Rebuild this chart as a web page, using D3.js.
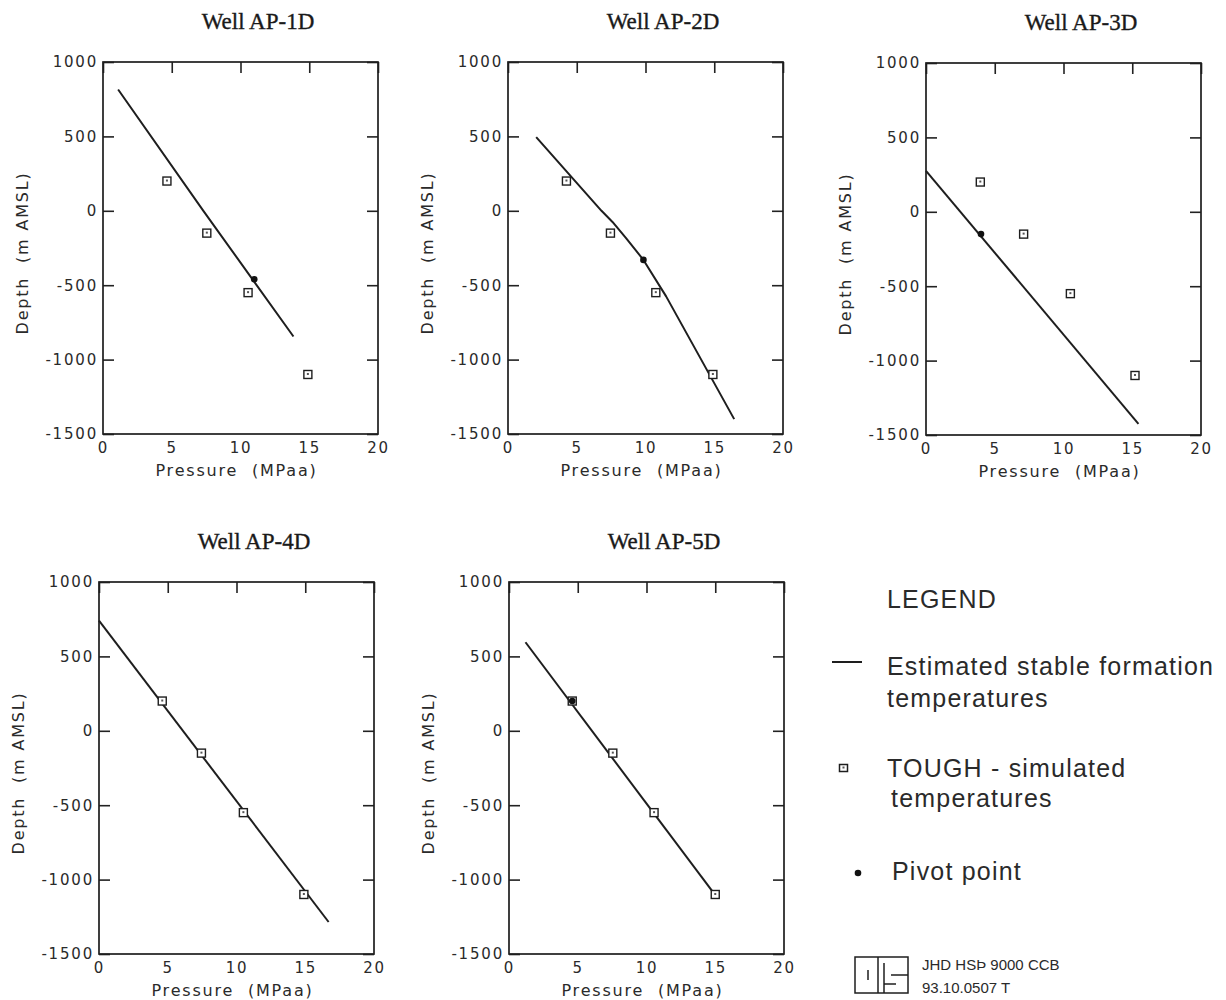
<!DOCTYPE html>
<html>
<head>
<meta charset="utf-8">
<script src="https://cdn.jsdelivr.net/npm/d3@7"></script>
<style>
body{margin:0;background:#fff;}
svg{display:block;}
.tick text{font-family:'DejaVu Sans',sans-serif;font-size:15px;letter-spacing:1.8px;fill:#2a2a2a;}
.tick line{stroke:#222;stroke-width:1.6;}
.lbl{font-family:'DejaVu Sans',sans-serif;font-size:16px;letter-spacing:1.8px;fill:#2a2a2a;}
.ttl{font-family:'Liberation Serif',serif;font-size:23px;fill:#1a1a1a;stroke:#1a1a1a;stroke-width:0.35px;}
.leg{font-family:'Liberation Sans',Arial,sans-serif;font-size:25px;letter-spacing:1.2px;fill:#2a2a2a;}
.stamp{font-family:'Liberation Sans',Arial,sans-serif;font-size:15px;fill:#2a2a2a;}
</style>
</head>
<body>
<div id="canvas"></div>
<script>
// axes
var xTicks = [0, 5, 10, 15, 20];
var yTicks = [1000, 500, 0, -500, -1000, -1500];
var wellNames = ['Well AP-1D', 'Well AP-2D', 'Well AP-3D', 'Well AP-4D', 'Well AP-5D'];

// TOUGH simulated points (same depths in every well)
var simDepth = [200, -150, -550, -1100];
var simP1 = [4.65, 7.55, 10.55, 14.9];
var simP2 = [4.25, 7.45, 10.75, 14.9];
var simP3 = [3.95, 7.1, 10.5, 15.2];
var simP4 = [4.6, 7.45, 10.5, 14.9];
var simP5 = [4.6, 7.55, 10.55, 15.0];

// estimated lines
var lineP1 = [1.1, 7.3, 13.85];
var lineD1 = [815, 0, -845];
var lineP2 = [2.05, 6.8, 7.6, 8.6, 9.85, 11.5, 16.45];
var lineD2 = [495, 0, -75, -185, -330, -575, -1400];
var lineP3 = [0, 15.45];
var lineD3 = [275, -1425];
var lineP4 = [0, 16.7];
var lineD4 = [740, -1285];
var lineP5 = [1.2, 15.0];
var lineD5 = [595, -1105];

// pivot points (AP-4D has none)
var pivotP = [11.0, 9.85, 4.0, null, 4.6];
var pivotD = [-460, -330, -150, null, 200];

var simP = [simP1, simP2, simP3, simP4, simP5];
var lineP = [lineP1, lineP2, lineP3, lineP4, lineP5];
var lineD = [lineD1, lineD2, lineD3, lineD4, lineD5];

var W = 1226, H = 1000;
var pw = 275, ph = 372;
var spots = [[103, 62], [508, 62], [926, 63], [99, 582], [509, 582]];

var svg = d3.select('#canvas').append('svg')
    .attr('width', W)
    .attr('height', H);
svg.append('rect').attr('width', W).attr('height', H).attr('fill', '#fff');

var ink = '#1e1e1e';
var plain = function(d){ return String(d); };

wellNames.forEach(function(name, i) {
    var x = d3.scaleLinear().domain([0, 20]).range([0, pw]);
    var y = d3.scaleLinear().domain([-1500, 1000]).range([ph, 0]);

    var g = svg.append('g')
        .attr('transform', 'translate(' + spots[i][0] + ',' + spots[i][1] + ')');

    g.append('g').call(d3.axisLeft(y).tickValues(yTicks).tickSize(-11).tickPadding(5).tickFormat(plain))
        .call(function(a){ a.select('.domain').remove(); });
    g.append('g').attr('transform', 'translate(' + pw + ',0)')
        .call(d3.axisRight(y).tickValues(yTicks).tickSize(-11).tickFormat(''))
        .call(function(a){ a.select('.domain').remove(); });
    g.append('g')
        .call(d3.axisTop(x).tickValues(xTicks).tickSize(-11).tickFormat(''))
        .call(function(a){ a.select('.domain').remove(); });
    g.append('g').attr('transform', 'translate(0,' + ph + ')')
        .call(d3.axisBottom(x).tickValues(xTicks).tickSize(0).tickPadding(8).tickFormat(plain))
        .call(function(a){ a.select('.domain').remove(); });

    g.append('rect')
        .attr('width', pw).attr('height', ph)
        .attr('fill', 'none').attr('stroke', ink).attr('stroke-width', 1.7);

    g.append('text').attr('class', 'ttl')
        .attr('x', 155).attr('y', -33)
        .attr('text-anchor', 'middle')
        .text(name);

    g.append('text').attr('class', 'lbl')
        .attr('x', pw / 2 - 4).attr('y', ph + 42)
        .attr('text-anchor', 'middle')
        .text('Pressure\u00a0\u00a0(MPaa)');

    g.append('text').attr('class', 'lbl')
        .attr('transform', 'translate(' + (-75) + ',' + (ph / 2 + 5) + ') rotate(-90)')
        .attr('text-anchor', 'middle')
        .text('Depth\u00a0\u00a0(m\u00a0AMSL)');

    var pts = lineP[i].map(function(p, k){ return [p, lineD[i][k]]; });
    var line = d3.line()
        .x(function(d){ return x(d[0]); })
        .y(function(d){ return y(d[1]); });
    g.append('path').datum(pts)
        .attr('d', line)
        .attr('fill', 'none').attr('stroke', ink).attr('stroke-width', 2)
        .attr('stroke-linejoin', 'round');

    var sq = g.selectAll('.sq').data(simP[i]).enter().append('g')
        .attr('class', 'sq')
        .attr('transform', function(p, k){ return 'translate(' + x(p) + ',' + y(simDepth[k]) + ')'; });
    sq.append('rect')
        .attr('x', -4).attr('y', -4).attr('width', 8).attr('height', 8)
        .attr('fill', '#fff').attr('stroke', ink).attr('stroke-width', 1.4);
    sq.append('rect')
        .attr('x', -1).attr('y', -1.5).attr('width', 2).attr('height', 2)
        .attr('fill', '#555');

    if (pivotP[i] !== null) {
        g.append('circle')
            .attr('cx', x(pivotP[i])).attr('cy', y(pivotD[i]))
            .attr('r', 3.3).attr('fill', '#111');
    }
});

// legend
var leg = svg.append('g');
leg.append('text').attr('class', 'leg').attr('x', 887).attr('y', 608).text('LEGEND');
leg.append('line').attr('x1', 832).attr('x2', 862).attr('y1', 662).attr('y2', 662)
    .attr('stroke', ink).attr('stroke-width', 2);
leg.append('text').attr('class', 'leg').attr('x', 887).attr('y', 675).text('Estimated stable formation');
leg.append('text').attr('class', 'leg').attr('x', 887).attr('y', 707).text('temperatures');
leg.append('rect').attr('x', 839.5).attr('y', 764.5).attr('width', 8).attr('height', 7)
    .attr('fill', '#fff').attr('stroke', ink).attr('stroke-width', 1.5);
leg.append('rect').attr('x', 842.5).attr('y', 766.5).attr('width', 2).attr('height', 2).attr('fill', '#555');
leg.append('text').attr('class', 'leg').attr('x', 887).attr('y', 777).text('TOUGH - simulated');
leg.append('text').attr('class', 'leg').attr('x', 891).attr('y', 807).text('temperatures');
leg.append('circle').attr('cx', 858).attr('cy', 873).attr('r', 3.3).attr('fill', '#111');
leg.append('text').attr('class', 'leg').attr('x', 892).attr('y', 880).text('Pivot point');

// stamp
var st = svg.append('g').attr('fill', 'none').attr('stroke', ink).attr('stroke-width', 1.5);
st.append('rect').attr('x', 855).attr('y', 957).attr('width', 53).attr('height', 36);
st.append('line').attr('x1', 878).attr('x2', 878).attr('y1', 957).attr('y2', 993);
st.append('line').attr('x1', 868).attr('x2', 868).attr('y1', 970).attr('y2', 980);
st.append('line').attr('x1', 884).attr('x2', 884).attr('y1', 963).attr('y2', 993);
st.append('line').attr('x1', 891).attr('x2', 908).attr('y1', 975).attr('y2', 975);
st.append('line').attr('x1', 884).attr('x2', 896).attr('y1', 984).attr('y2', 984);
svg.append('text').attr('class', 'stamp').attr('x', 922).attr('y', 970).text('JHD HS\u00de 9000 CCB');
svg.append('text').attr('class', 'stamp').attr('x', 922).attr('y', 993).text('93.10.0507 T');
</script>
</body>
</html>
